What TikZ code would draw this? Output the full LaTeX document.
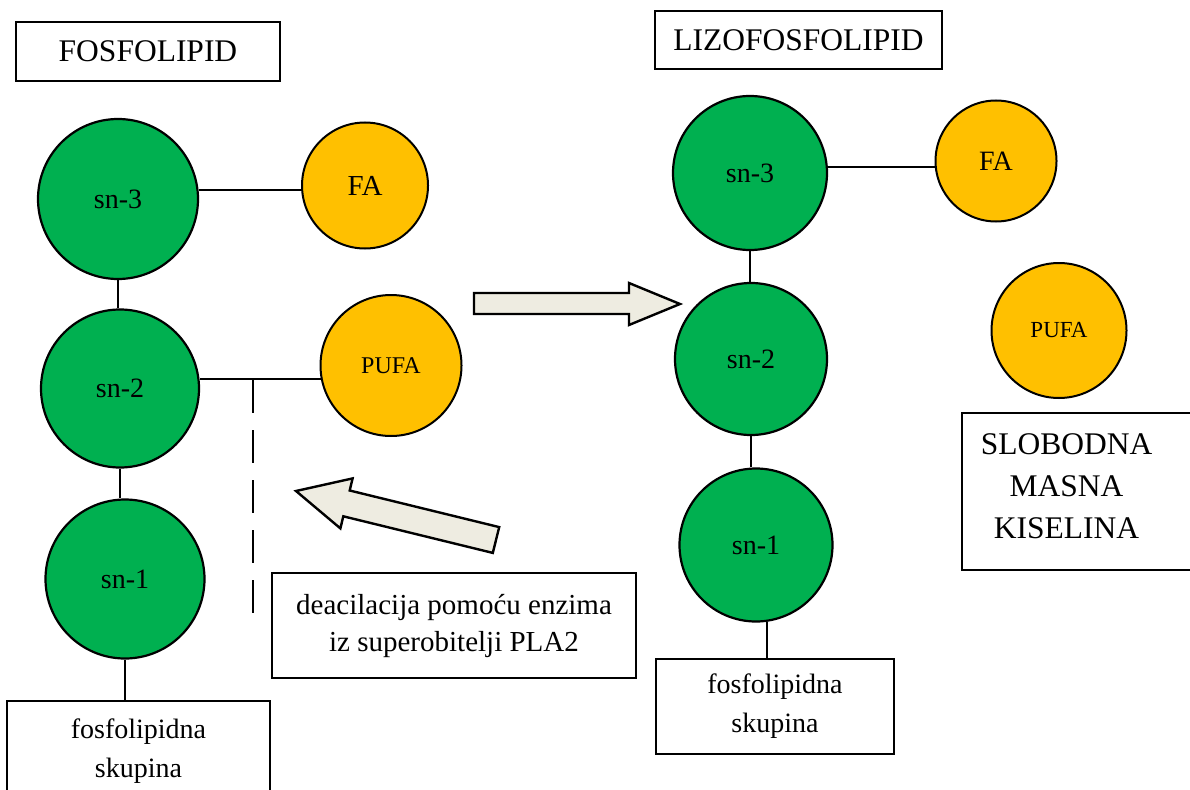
\documentclass[tikz,border=0pt]{standalone}
\usepackage{fontspec}
\setmainfont{Liberation Serif}
\definecolor{lgreen}{HTML}{00B050}
\definecolor{lyellow}{HTML}{FFC000}
\definecolor{arrowfill}{HTML}{EEECE1}
\begin{document}
\begin{tikzpicture}[x=1pt,y=-1pt,
  gcirc/.style={circle,draw=black,line width=2.2pt,fill=lgreen,inner sep=0pt,
    font=\fontsize{28}{34}\selectfont},
  ycirc/.style={circle,draw=black,line width=2pt,fill=lyellow,inner sep=0pt,
    font=\fontsize{29}{34}\selectfont},
  pufatext/.style={font=\fontsize{24}{28}\selectfont},
  tbox/.style={rectangle,draw=black,line width=2.3pt,fill=white,inner sep=0pt,align=center},
  titletext/.style={font=\fontsize{31.5}{42}\selectfont},
  boxtext/.style={font=\fontsize{28}{39}\selectfont},
  conn/.style={draw=black,line width=2pt},
  dashline/.style={draw=black,line width=2pt,dash pattern=on 33pt off 17pt},
  bigarrow/.style={draw=black,line width=2.4pt,fill=arrowfill,line join=miter}]
\useasboundingbox (0,0) rectangle (1190,789);
\fill[white] (0,0) rectangle (1190,789);

% ---------- left: FOSFOLIPID ----------
\node[tbox,titletext,minimum width=264pt,minimum height=59pt] (fos) at (148,51.5) {FOSFOLIPID};
\node[gcirc,minimum size=160pt] (l3) at (118,199) {sn-3};
\node[ycirc,minimum size=126pt] (lfa) at (365,185.5) {FA};
\node[gcirc,minimum size=158pt] (l2) at (120,388.5) {sn-2};
\node[ycirc,pufatext,minimum size=141pt] (lpufa) at (391,365.5) {PUFA};
\node[gcirc,minimum size=159pt] (l1) at (125,579) {sn-1};
\node[tbox,boxtext,minimum width=263pt,minimum height=100pt] (lgrp) at (138.5,751) {fosfolipidna\\skupina};
\node[tbox,font=\fontsize{29}{37}\selectfont,minimum width=364pt,minimum height=105pt] (deac) at (454,625.5) {deacilacija pomoću enzima\\iz superobitelji PLA2};

\draw[conn] (lfa.184.5) -- (lfa.184.5 -| l3.east);
\draw[conn] (l3.south) -- (l3.south |- l2.north);
\draw[conn] (l2.south) -- (l2.south |- l1.north);
\draw[conn] (lpufa.191.5) -- (lpufa.191.5 -| l2.east);
\draw[conn] (l1.south) -- (l1.south |- lgrp.north);
\coordinate (dtop) at (253,380);
\coordinate (dbot) at (253,613);
\draw[dashline] (dtop) -- (dbot);

% ---------- block arrows ----------
\draw[bigarrow] (474,293) -- (629,293) -- (629,283) -- (680,304) -- (629,325) -- (629,314) -- (474,314) -- cycle;
\draw[bigarrow] (296,491) -- (352.6,478.4) -- (349.7,490.5) -- (499.2,527.1) -- (492.8,552.9) -- (343.3,516.3) -- (340.4,528.4) -- cycle;

% ---------- right: LIZOFOSFOLIPID ----------
\node[tbox,titletext,minimum width=287pt,minimum height=58pt] (lizo) at (798.5,40) {LIZOFOSFOLIPID};
\node[gcirc,minimum size=154pt] (r3) at (750,173) {sn-3};
\node[ycirc,font=\fontsize{28}{34}\selectfont,minimum size=121pt] (rfa) at (996,161) {FA};
\node[gcirc,minimum size=152pt] (r2) at (751,359) {sn-2};
\node[gcirc,minimum size=153pt] (r1) at (756,545) {sn-1};
\node[ycirc,font=\fontsize{23}{28}\selectfont,minimum size=135pt] (rpufa) at (1059,330.5) {PUFA};
\node[tbox,minimum width=240pt,minimum height=157pt] (slob) at (1082,491.5) {};
\node[titletext,align=center,inner sep=0pt] (slobt) at (1066.5,486) {SLOBODNA\\MASNA\\KISELINA};
\node[tbox,boxtext,minimum width=238pt,minimum height=95pt] (rgrp) at (775,706.5) {fosfolipidna\\skupina};

\draw[conn] (rfa.186.7) -- (rfa.186.7 -| r3.east);
\draw[conn] (r3.south) -- (r3.south |- r2.north);
\draw[conn] (r2.south) -- (r2.south |- r1.north);
\draw[conn] (r1.-82) -- (r1.-82 |- rgrp.north);
\end{tikzpicture}
\end{document}
